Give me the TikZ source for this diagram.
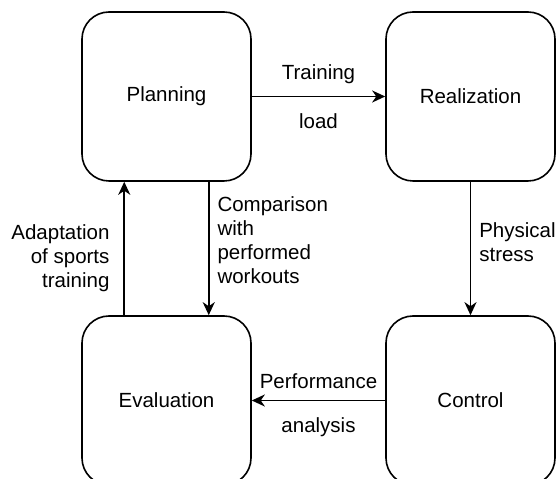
\documentclass[tikz,border=0pt]{standalone}
\usepackage{fontspec}
\setmainfont{Liberation Sans}
\usepackage{tikz}
\usetikzlibrary{arrows.meta}

\begin{document}
\begin{tikzpicture}[x=1pt,y=1pt,line width=1.6pt]
   \clip (0,0) rectangle (558,479);
   \tikzstyle{phase}=[rectangle, rounded corners=27pt, minimum size=169pt, draw=black, fill=white, font=\fontsize{20.5}{24}\selectfont]
   \tikzstyle{lbl}=[inner sep=1pt, font=\fontsize{20.5}{24}\selectfont]
   \tikzstyle{link}=[arrows={-Stealth[length=13pt,width=12pt,inset=4pt]}]
   \node[phase] (planning) at (166.5,382.5) {Planning};
   \node[phase] (realization) at (470.5,382.5) {Realization};
   \node[phase] (evaluation) at (166.5,78.5) {Evaluation};
   \node[phase] (control) at (470.5,78.5) {Control};
   % outer loop
   \path[link] (planning) edge node[lbl,midway,yshift=22pt] {Training} node[lbl,midway,yshift=-25pt] {load} (realization);
   \path[link] (realization) edge node[lbl,midway,right=7pt,yshift=6pt,align=left] {Physical\\stress} (control);
   \path[link] (control) edge node[lbl,midway,yshift=19pt] {Performance} node[lbl,midway,yshift=-27pt] {analysis} (evaluation);
   % between planning and evaluation
   \path[link] ([xshift=-42.25pt]evaluation.north) edge node[lbl,midway,left=13pt,yshift=-9.5pt,align=right] {Adaptation\\of sports\\training} ([xshift=-42.25pt]planning.south);
   \path[link] ([xshift=42.25pt]planning.south) edge node[lbl,midway,right=7pt,yshift=8.5pt,align=left] {Comparison\\with\\performed\\workouts} ([xshift=42.25pt]evaluation.north);
\end{tikzpicture}
\end{document}
